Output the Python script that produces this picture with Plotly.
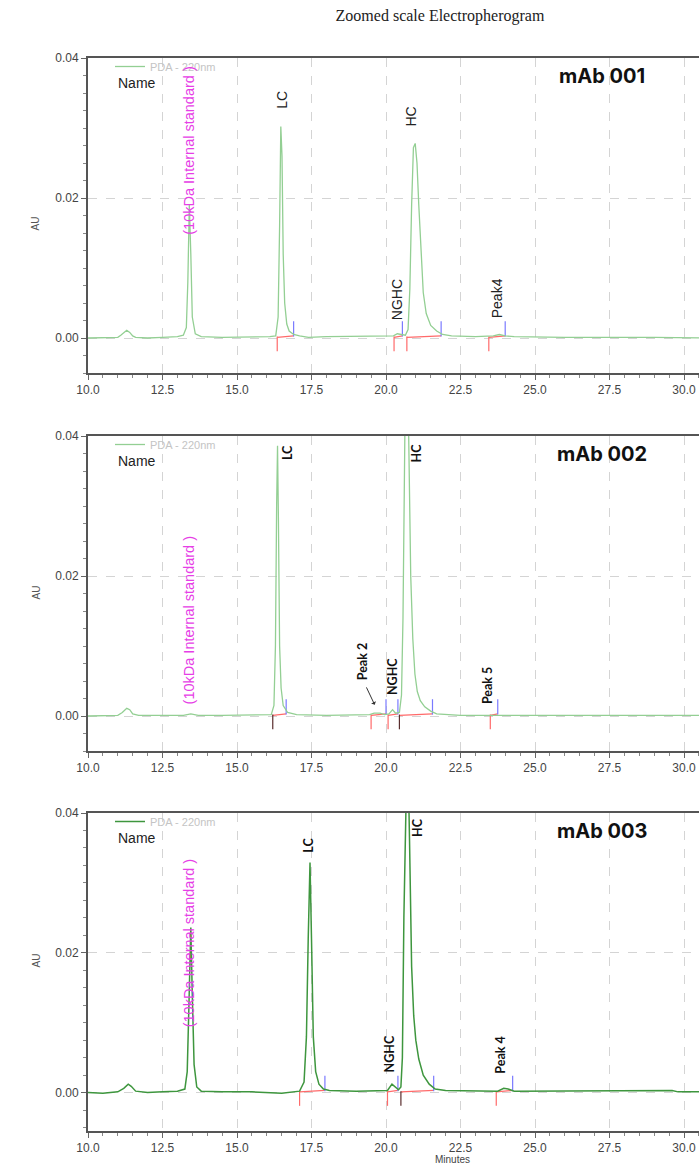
import plotly.graph_objects as go

W, H = 699, 1175

# ---------------- data ----------------
t1 = [10.0, 10.5, 11.0, 11.1, 11.2, 11.3, 11.4, 11.5, 11.6, 12.0, 12.5, 13.0, 13.2, 13.3, 13.35, 13.4,
      13.45, 13.5, 13.6, 13.8, 14.5, 15.5, 16.1, 16.3, 16.38, 16.43, 16.47, 16.51, 16.55, 16.6, 16.67,
      16.75, 16.9, 17.1, 17.4, 18.0, 19.0, 20.0, 20.25, 20.38, 20.5, 20.65, 20.74, 20.8, 20.86, 20.92,
      20.98, 21.04, 21.1, 21.17, 21.25, 21.35, 21.5, 21.7, 21.9, 22.2, 23.0, 23.6, 23.8, 24.0, 24.3,
      26.0, 28.0, 28.6, 29.0, 30.6]
a1 = [0.0000, 0.0000, 0.0001, 0.0004, 0.0008, 0.0011, 0.0008, 0.0003, 0.0001, 0.0000, 0.0001, 0.0002,
      0.0004, 0.0015, 0.0080, 0.0190, 0.0120, 0.0030, 0.0006, 0.0002, 0.0001, 0.0001, 0.0002, 0.0003,
      0.0030, 0.0160, 0.0302, 0.0260, 0.0120, 0.0050, 0.0020, 0.0010, 0.0005, 0.0003, 0.0001, 0.0002,
      0.0002, 0.0002, 0.0003, 0.0006, 0.0005, 0.0004, 0.0012, 0.0070, 0.0190, 0.0272, 0.0278, 0.0250,
      0.0190, 0.0120, 0.0065, 0.0035, 0.0018, 0.0010, 0.0005, 0.0003, 0.0002, 0.0003, 0.0005, 0.0003,
      0.0002, 0.0001, 0.0001, 0.0002, 0.0001, 0.0000]

t2 = [10.0, 10.5, 11.0, 11.15, 11.3, 11.4, 11.5, 11.7, 12.5, 13.2, 13.45, 13.7, 14.5, 15.5, 16.15,
      16.24, 16.29, 16.33, 16.36, 16.39, 16.43, 16.48, 16.55, 16.7, 17.0, 18.0, 19.0, 19.45, 19.6,
      19.8, 19.95, 20.1, 20.22, 20.32, 20.45, 20.52, 20.57, 20.62, 20.67, 20.72, 20.77, 20.83, 20.9,
      20.97, 21.05, 21.15, 21.3, 21.5, 21.7, 22.5, 24.0, 26.0, 28.0, 30.6]
a2 = [0.0000, 0.0000, 0.0001, 0.0005, 0.0011, 0.0009, 0.0003, 0.0001, 0.0001, 0.0001, 0.0003, 0.0001,
      0.0001, 0.0001, 0.0002, 0.0015, 0.0100, 0.0300, 0.0386, 0.0280, 0.0100, 0.0040, 0.0015, 0.0005,
      0.0002, 0.0001, 0.0001, 0.0002, 0.0004, 0.0004, 0.0002, 0.0003, 0.0009, 0.0004, 0.0005, 0.0030,
      0.0140, 0.0380, 0.0560, 0.0520, 0.0360, 0.0200, 0.0110, 0.0060, 0.0035, 0.0022, 0.0013, 0.0007,
      0.0003, 0.0001, 0.0001, 0.0001, 0.0001, 0.0001]

t3 = [10.0, 10.5, 11.0, 11.2, 11.35, 11.45, 11.6, 12.0, 12.5, 13.0, 13.25, 13.33, 13.39, 13.45, 13.5,
      13.56, 13.65, 13.8, 14.5, 15.5, 16.5, 17.1, 17.25, 17.33, 17.39, 17.45, 17.5, 17.56, 17.64, 17.75,
      17.9, 18.1, 19.0, 19.8, 20.05, 20.2, 20.3, 20.42, 20.5, 20.55, 20.6, 20.65, 20.72, 20.79, 20.86,
      20.93, 21.0, 21.1, 21.25, 21.45, 21.65, 22.0, 23.0, 23.75, 23.95, 24.1, 24.3, 26.0, 28.5, 29.6,
      29.8, 30.6]
a3 = [0.0000, -0.0001, 0.0001, 0.0006, 0.0012, 0.0009, 0.0002, 0.0000, 0.0001, 0.0002, 0.0005, 0.0030,
      0.0130, 0.0236, 0.0140, 0.0040, 0.0008, 0.0002, 0.0001, 0.0001, -0.0001, 0.0002, 0.0015, 0.0080,
      0.0220, 0.0329, 0.0220, 0.0080, 0.0030, 0.0012, 0.0005, 0.0003, 0.0002, 0.0002, 0.0003, 0.0012,
      0.0008, 0.0004, 0.0008, 0.0050, 0.0250, 0.0480, 0.0520, 0.0360, 0.0180, 0.0110, 0.0075, 0.0048,
      0.0025, 0.0012, 0.0005, 0.0003, 0.0002, 0.0002, 0.0006, 0.0005, 0.0002, 0.0002, 0.0002, 0.0003,
      0.0001, 0.0001]

# integration events (peak start = red, peak end = blue)
p1_start = [16.35, 20.27, 20.70, 23.45]
p1_end = [16.90, 20.55, 21.85, 24.00]
p1_dark = [False, False, False, False]
p2_start = [16.20, 19.50, 20.07, 20.45, 23.50]
p2_end = [16.65, 20.00, 20.40, 21.56, 23.75]
p2_dark = [True, False, False, True, False]
p3_start = [17.10, 20.05, 20.50, 23.70]
p3_end = [17.95, 20.40, 21.60, 24.25]
p3_dark = [False, False, True, False]

# peak labels (text, time, AU position of label centre)
lab1 = [("LC", 16.50, 0.0340), ("HC", 20.83, 0.0316), ("NGHC", 20.37, 0.0054), ("Peak4", 23.73, 0.0057)]
lab2 = [("LC", 16.72, 0.0376), ("HC", 21.03, 0.0376), ("Peak 2", 19.20, 0.0077),
        ("NGHC", 20.20, 0.0057), ("Peak 5", 23.43, 0.0043)]
lab3 = [("LC", 17.40, 0.0354), ("HC", 21.05, 0.0379), ("NGHC", 20.10, 0.0056), ("Peak 4", 23.83, 0.0053)]
std_label = "(10kDa Internal standard )"
std_pos = [(13.40, 0.0268), (13.40, 0.0137), (13.40, 0.0214)]
sample_names = ["mAb 001", "mAb 002", "mAb 003"]
series_name = "PDA - 220nm"

x_ticks = [10.0, 12.5, 15.0, 17.5, 20.0, 22.5, 25.0, 27.5, 30.0]
y_ticks = [0.00, 0.02, 0.04]

# ---------------- layout helpers ----------------
def py(px):
    return 1 - px / H

def pxx(px):
    return px / W

panels = [
    dict(top=58, bot=373, ymin=-0.005, t=t1, a=a1, s=p1_start, e=p1_end, d=p1_dark, lab=lab1,
         color="#93cf93", lw=1.3, bold=False),
    dict(top=436, bot=751, ymin=-0.005, t=t2, a=a2, s=p2_start, e=p2_end, d=p2_dark, lab=lab2,
         color="#93cf93", lw=1.3, bold=True),
    dict(top=813, bot=1131, ymin=-0.0055, t=t3, a=a3, s=p3_start, e=p3_end, d=p3_dark, lab=lab3,
         color="#3e963e", lw=1.5, bold=True),
]

fig = go.Figure()
annotations = []
layout_axes = {}
XMAX = 10 + (W - 88) / 29.8

for i, p in enumerate(panels):
    k = i + 1
    xa = "x" if k == 1 else f"x{k}"
    ya = "y" if k == 1 else f"y{k}"
    leg = "legend" if k == 1 else f"legend{k}"

    # baseline / integration marks
    rx, ry, bx, by, kx, ky, hx, hy = [], [], [], [], [], [], [], []
    for s, e, dk in zip(p["s"], p["e"], p["d"]):
        if dk:
            kx += [s, s, None]; ky += [0.0002, -0.0019, None]
        else:
            rx += [s, s, None]; ry += [0.0002, -0.0019, None]
        bx += [e, e, None]; by += [0.0002, 0.0024, None]
        hx += [s, e, None]; hy += [0.0001, 0.0003, None]
    fig.add_trace(go.Scatter(x=hx, y=hy, mode="lines", line=dict(color="#ff6a6a", width=1.2),
                             xaxis=xa, yaxis=ya, showlegend=False, hoverinfo="skip"))
    fig.add_trace(go.Scatter(x=rx, y=ry, mode="lines", line=dict(color="#ff6a6a", width=1.2),
                             xaxis=xa, yaxis=ya, showlegend=False, hoverinfo="skip"))
    if kx:
        fig.add_trace(go.Scatter(x=kx, y=ky, mode="lines", line=dict(color="#5a2e2e", width=1.2),
                                 xaxis=xa, yaxis=ya, showlegend=False, hoverinfo="skip"))
    fig.add_trace(go.Scatter(x=bx, y=by, mode="lines", line=dict(color="#7a7aff", width=1.2),
                             xaxis=xa, yaxis=ya, showlegend=False, hoverinfo="skip"))

    # trace
    fig.add_trace(go.Scatter(x=p["t"], y=p["a"], mode="lines", name=series_name,
                             line=dict(color=p["color"], width=p["lw"]),
                             xaxis=xa, yaxis=ya, legend=leg, showlegend=True))

    dom_y = [py(p["bot"]), py(p["top"])]
    layout_axes["xaxis" if k == 1 else f"xaxis{k}"] = dict(
        domain=[pxx(88), 1.0], range=[10, XMAX], anchor=ya,
        tickvals=x_ticks, ticktext=[f"{v:.1f}" for v in x_ticks],
        ticks="outside", ticklen=5, tickcolor="#666", tickwidth=1,
        minor=dict(dtick=0.5, tick0=10, ticks="outside", ticklen=3, tickcolor="#888", showgrid=False),
        showline=True, linecolor="#555", linewidth=2, mirror=True,
        showgrid=True, gridcolor="#d4d4d4", griddash="dash", gridwidth=1,
        zeroline=False, automargin=False,
        tickfont=dict(family="Liberation Sans, Arial", size=12, color="#444"),
    )
    layout_axes["yaxis" if k == 1 else f"yaxis{k}"] = dict(
        domain=dom_y, range=[p["ymin"], 0.04], anchor=xa,
        tickvals=y_ticks, ticktext=[f"{v:.2f}" for v in y_ticks],
        ticks="outside", ticklen=5, tickcolor="#666", tickwidth=1,
        minor=dict(dtick=0.0025, tick0=0, ticks="outside", ticklen=3, tickcolor="#888", showgrid=False),
        showline=True, linecolor="#555", linewidth=2, mirror=False,
        showgrid=True, gridcolor="#d4d4d4", griddash="dash", gridwidth=1,
        zeroline=False, automargin=False,
        tickfont=dict(family="Liberation Sans, Arial", size=12, color="#444"),
    )
    layout_axes[leg] = dict(
        x=pxx(110), xanchor="left", y=py(p["top"] - 6), yanchor="top",
        bgcolor="rgba(0,0,0,0)", borderwidth=0, itemwidth=30,
        font=dict(family="Liberation Sans, Arial", size=11, color="#c4c4c4"),
    )

    # peak labels
    for txt, tx, ty in p["lab"]:
        if p["bold"]:
            f = dict(family="Lato, Open Sans", size=12.5, color="#111", weight="bold")
        else:
            f = dict(family="Liberation Sans, Arial", size=14, color="#222")
        annotations.append(dict(x=tx, y=ty, xref=xa, yref=ya, text=txt, textangle=-90,
                                showarrow=False, font=f))
    sx, sy = std_pos[i]
    annotations.append(dict(x=sx, y=sy, xref=xa, yref=ya, text=std_label, textangle=-90,
                            showarrow=False,
                            font=dict(family="Liberation Sans, Arial", size=14.5, color="#e63ee6")))
    # Name
    annotations.append(dict(x=pxx(116), y=py(p["top"] + 25), xref="paper", yref="paper",
                            text="Name", showarrow=False, xanchor="left", yanchor="middle",
                            font=dict(family="Liberation Sans, Arial", size=14, color="#222")))
    # sample name
    annotations.append(dict(x=pxx(602), y=py(p["top"] + 18), xref="paper", yref="paper",
                            text=f"<b>{sample_names[i]}</b>", showarrow=False, xanchor="center",
                            yanchor="middle",
                            font=dict(family="Inter, Open Sans", size=20, color="#111")))
    # AU
    annotations.append(dict(x=pxx(28), y=py(p["top"] + 157), xref="paper", yref="paper",
                            text="AU", textangle=-90, showarrow=False,
                            font=dict(family="Liberation Sans, Arial", size=10, color="#555")))

# arrow for Peak 2
annotations.append(dict(x=19.62, y=0.0016, ax=19.32, ay=0.0043, xref="x2", yref="y2",
                        axref="x2", ayref="y2", text="", showarrow=True, arrowhead=1,
                        arrowsize=0.9, arrowwidth=1, arrowcolor="#333"))
# Minutes
annotations.append(dict(x=pxx(452), y=py(1167), xref="paper", yref="paper", text="Minutes",
                        showarrow=False,
                        font=dict(family="Liberation Sans, Arial", size=10, color="#444")))

fig.update_layout(
    width=W, height=H,
    margin=dict(l=0, r=0, t=0, b=0),
    paper_bgcolor="white", plot_bgcolor="white",
    title=dict(text="Zoomed scale Electropherogram", x=pxx(440), xanchor="center",
               y=py(15), yanchor="middle",
               font=dict(family="Liberation Serif, Times New Roman", size=16, color="#222")),
    annotations=annotations,
    **layout_axes,
)

fig.write_html("out.html", config={"displayModeBar": False},
               post_script="document.body.style.margin='0';document.body.style.overflow='hidden';")
